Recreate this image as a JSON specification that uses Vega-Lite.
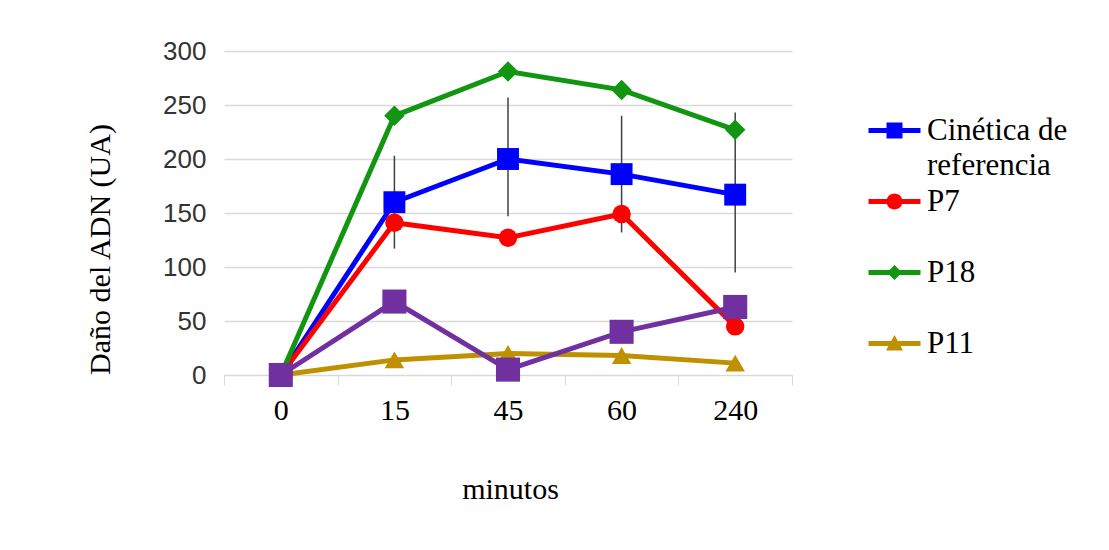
{
  "$schema": "https://vega.github.io/schema/vega-lite/v6.json",
  "width": 568,
  "height": 324,
  "autosize": {"type": "none"},
  "padding": {"left": 224, "top": 51, "right": 317, "bottom": 175},
  "background": "white",
  "config": {
    "font": "Liberation Serif",
    "view": {"stroke": null},
    "axis": {"labelFont": "Liberation Serif", "titleFont": "Liberation Serif", "labelColor": "#000000", "titleColor": "#000000", "labelFontSize": 30, "titleFontSize": 30, "titleFontWeight": "normal"}
  },
  "datasets": {
    "series": [
      {"min": "0", "serie": "Cinética de referencia", "valor": 0},
      {"min": "15", "serie": "Cinética de referencia", "valor": 160},
      {"min": "45", "serie": "Cinética de referencia", "valor": 200},
      {"min": "60", "serie": "Cinética de referencia", "valor": 186},
      {"min": "240", "serie": "Cinética de referencia", "valor": 167},
      {"min": "0", "serie": "P7", "valor": 0},
      {"min": "15", "serie": "P7", "valor": 141},
      {"min": "45", "serie": "P7", "valor": 127},
      {"min": "60", "serie": "P7", "valor": 149},
      {"min": "240", "serie": "P7", "valor": 45},
      {"min": "0", "serie": "P18", "valor": 0},
      {"min": "15", "serie": "P18", "valor": 240},
      {"min": "45", "serie": "P18", "valor": 281},
      {"min": "60", "serie": "P18", "valor": 264},
      {"min": "240", "serie": "P18", "valor": 227},
      {"min": "0", "serie": "P11", "valor": 0},
      {"min": "15", "serie": "P11", "valor": 14},
      {"min": "45", "serie": "P11", "valor": 20},
      {"min": "60", "serie": "P11", "valor": 18},
      {"min": "240", "serie": "P11", "valor": 11}
    ],
    "purple": [
      {"min": "0", "valor": 0},
      {"min": "15", "valor": 68},
      {"min": "45", "valor": 5},
      {"min": "60", "valor": 40},
      {"min": "240", "valor": 63}
    ],
    "err": [
      {"min": "15", "lo": 117, "hi": 203},
      {"min": "45", "lo": 147, "hi": 257},
      {"min": "60", "lo": 132, "hi": 240},
      {"min": "240", "lo": 95, "hi": 243}
    ]
  },
  "encoding": {
    "x": {
      "field": "min", "type": "ordinal", "bandPosition": 0.5,
      "sort": ["0", "15", "45", "60", "240"],
      "scale": {"type": "band", "paddingInner": 0, "paddingOuter": 0, "domain": ["0", "15", "45", "60", "240"]},
      "axis": {"title": "minutos", "labelAngle": 0, "tickBand": "extent", "domainColor": "#d9d9d9", "tickColor": "#d9d9d9", "tickSize": 10, "labelPadding": 10, "grid": false, "titleX": 286, "titleY": 114, "titleBaseline": "middle"}
    },
    "y": {
      "type": "quantitative",
      "scale": {"domain": [0, 300], "nice": false},
      "axis": {"title": "Daño del ADN (UA)", "values": [0, 50, 100, 150, 200, 250, 300], "domain": false, "ticks": false, "labelPadding": 18, "labelFont": "Liberation Sans", "labelFontSize": 26, "labelColor": "#333333", "gridColor": "#d9d9d9", "gridWidth": 1.5, "titleX": -124, "titleY": 198, "titleAngle": -90, "titleAlign": "center", "titleBaseline": "middle"}
    }
  },
  "layer": [
    {
      "data": {"name": "err"},
      "mark": {"type": "rule", "color": "#404040", "strokeWidth": 1.5},
      "encoding": {"y": {"field": "lo", "type": "quantitative"}, "y2": {"field": "hi"}}
    },
    {
      "data": {"name": "series"},
      "mark": {"type": "line", "strokeWidth": 5},
      "encoding": {
        "y": {"field": "valor", "type": "quantitative"},
        "color": {"field": "serie", "type": "nominal", "sort": ["Cinética de referencia", "P7", "P18", "P11"],
          "scale": {"domain": ["Cinética de referencia", "P7", "P18", "P11"], "range": ["#0000FF", "#FF0000", "#129612", "#BF9000"]}}
      }
    },
    {
      "data": {"name": "series"},
      "transform": [{"filter": "false"}],
      "mark": {"type": "point", "filled": true},
      "encoding": {
        "y": {"field": "valor", "type": "quantitative"},
        "color": {"field": "serie", "type": "nominal", "sort": ["Cinética de referencia", "P7", "P18", "P11"],
          "scale": {"domain": ["Cinética de referencia", "P7", "P18", "P11"], "range": ["#0000FF", "#FF0000", "#129612", "#BF9000"]},
          "legend": {
            "title": null, "orient": "none", "legendX": 655, "legendY": 64,
            "labelFont": "Liberation Serif", "labelFontSize": 31, "labelColor": "#000000", "labelLimit": 300,
            "symbolSize": 400, "symbolOpacity": 1, "symbolStrokeWidth": 0, "labelOffset": 17, "rowPadding": 4,
            "labelExpr": "datum.label == 'Cinética de referencia' ? ['Cinética de', 'referencia'] : [datum.label, '']",
            "encode": {"labels": {"update": {"lineHeight": {"value": 35}}}}
          }},
        "shape": {"field": "serie", "type": "nominal", "sort": ["Cinética de referencia", "P7", "P18", "P11"],
          "scale": {"domain": ["Cinética de referencia", "P7", "P18", "P11"], "range": [
            "M-2.6,-0.25H2.6V0.25H-2.6Z M-0.8,-0.8H0.8V0.8H-0.8Z",
            "M-2.6,-0.25H2.6V0.25H-2.6Z M-0.8,0A0.8,0.8 0 1,1 0.8,0A0.8,0.8 0 1,1 -0.8,0Z",
            "M-2.6,-0.25H2.6V0.25H-2.6Z M-0.75,0L0,-0.75L0.75,0L0,0.75Z",
            "M-2.6,-0.25H2.6V0.25H-2.6Z M0,-0.85L0.85,0.7H-0.85Z"]},
          "legend": {
            "title": null, "orient": "none", "legendX": 655, "legendY": 64,
            "labelFont": "Liberation Serif", "labelFontSize": 31, "labelColor": "#000000", "labelLimit": 300,
            "symbolSize": 400, "symbolOpacity": 1, "symbolStrokeWidth": 0, "labelOffset": 17, "rowPadding": 4,
            "labelExpr": "datum.label == 'Cinética de referencia' ? ['Cinética de', 'referencia'] : [datum.label, '']",
            "encode": {"labels": {"update": {"lineHeight": {"value": 35}}}}
          }}
      }
    },
    {
      "data": {"name": "series"},
      "transform": [{"filter": "datum.serie == 'Cinética de referencia'"}],
      "mark": {"type": "point", "shape": "square", "filled": true, "opacity": 1, "color": "#0000FF", "size": 480},
      "encoding": {"y": {"field": "valor", "type": "quantitative"}}
    },
    {
      "data": {"name": "series"},
      "transform": [{"filter": "datum.serie == 'P7'"}],
      "mark": {"type": "point", "shape": "circle", "filled": true, "opacity": 1, "color": "#FF0000", "size": 340},
      "encoding": {"y": {"field": "valor", "type": "quantitative"}}
    },
    {
      "data": {"name": "series"},
      "transform": [{"filter": "datum.serie == 'P18'"}],
      "mark": {"type": "point", "shape": "diamond", "filled": true, "opacity": 1, "color": "#129612", "size": 420},
      "encoding": {"y": {"field": "valor", "type": "quantitative"}}
    },
    {
      "data": {"name": "series"},
      "transform": [{"filter": "datum.serie == 'P11'"}],
      "mark": {"type": "point", "shape": "triangle-up", "filled": true, "opacity": 1, "color": "#BF9000", "size": 380},
      "encoding": {"y": {"field": "valor", "type": "quantitative"}}
    },
    {
      "data": {"name": "purple"},
      "mark": {"type": "line", "strokeWidth": 5, "color": "#7030A0"},
      "encoding": {"y": {"field": "valor", "type": "quantitative"}}
    },
    {
      "data": {"name": "purple"},
      "mark": {"type": "point", "shape": "square", "filled": true, "opacity": 1, "color": "#7030A0", "size": 580},
      "encoding": {"y": {"field": "valor", "type": "quantitative"}}
    }
  ]
}
